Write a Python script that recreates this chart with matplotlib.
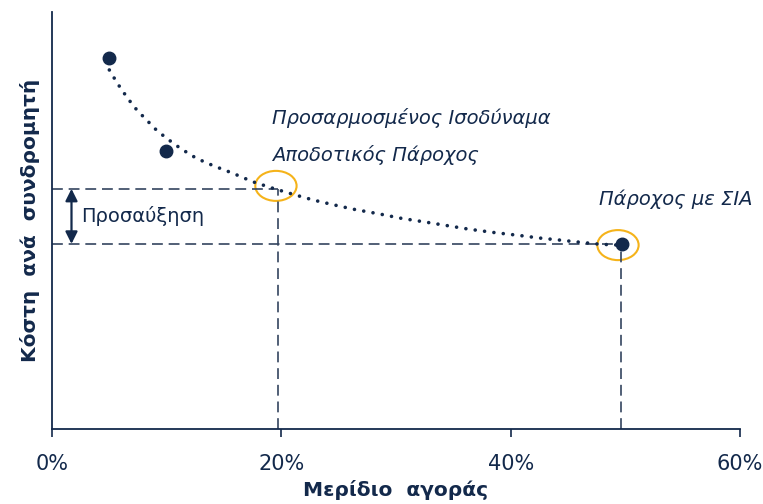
import matplotlib
matplotlib.use("Agg")
import matplotlib.pyplot as plt
from matplotlib.patches import Ellipse

# ---- data ----
curve_x = [5, 5.7, 6.6, 7.4, 8.25, 9.1, 10, 11.2, 12.6, 14.1, 15.8, 17.5, 19.3, 21, 22.8,
           24.5, 26.3, 28.5, 30.5, 32.4, 34.4, 36.4, 38.6, 40.8, 42.5, 44.3, 46, 47.8, 49.5]
curve_y = [86.1, 82.9, 79.3, 76.5, 74.1, 71.7, 69.7, 67.3, 64.9, 63.1, 61.3, 59.3, 57.7, 56.3, 54.9,
           53.8, 52.7, 51.6, 50.5, 49.7, 48.8, 47.9, 47.1, 46.4, 45.8, 45.3, 44.8, 44.3, 44.1]
point_x = [4.97, 9.94, 49.7]
point_y = [89.0, 66.7, 44.4]
eq_share = 19.7
eq_cost = 57.6
sia_share = 49.6
sia_cost = 44.4
xticks = [0, 20, 40, 60]
xtick_labels = ["0%", "20%", "40%", "60%"]

navy = "#13294b"
dash_col = "#34445f"
gold = "#f5b31a"

fig = plt.figure(figsize=(7.63, 5.04), dpi=100)
ax = fig.add_axes([52/763, 1-429/504, (740-52)/763, (429-12)/504])
ax.set_xlim(0, 60)
ax.set_ylim(0, 100)

# dashed guide lines
dash = (0, (6.5, 3.5))
ax.plot([0, eq_share], [eq_cost, eq_cost], color=dash_col, lw=1.2, linestyle=dash)
ax.plot([eq_share, eq_share], [0, eq_cost], color=dash_col, lw=1.2, linestyle=dash)
ax.plot([0, sia_share], [sia_cost, sia_cost], color=dash_col, lw=1.2, linestyle=dash)
ax.plot([sia_share, sia_share], [0, sia_cost], color=dash_col, lw=1.2, linestyle=dash)

# dotted curve
ax.plot(curve_x, curve_y, color=navy, lw=2.6, linestyle=(0, (0.01, 2.6)),
        dash_capstyle="round", solid_capstyle="round")
ax.plot(point_x, point_y, "o", color=navy, markersize=9)

# ellipses
for cx, cy in [(19.53, 58.3), (49.36, 44.1)]:
    ax.add_patch(Ellipse((cx, cy), 3.6, 7.2, fill=False, edgecolor=gold, lw=1.5))

# double arrow
ax.annotate("", xy=(1.7, eq_cost), xytext=(1.7, sia_cost),
            arrowprops=dict(arrowstyle="<|-|>", color=navy, lw=1.6, mutation_scale=18,
                            shrinkA=0, shrinkB=0))
ax.text(2.5, (eq_cost + sia_cost) / 2, "Προσαύξηση", fontsize=14, color=navy,
        va="center", ha="left")

ax.text(19.2, 74.5, "Προσαρμοσμένος Ισοδύναμα", fontsize=14, color=navy,
        style="italic", va="center", ha="left")
ax.text(19.2, 65.7, "Αποδοτικός Πάροχος", fontsize=14, color=navy,
        style="italic", va="center", ha="left")
ax.text(47.7, 55.0, "Πάροχος με ΣΙΑ", fontsize=14, color=navy,
        style="italic", va="center", ha="left")

for s in ["top", "right"]:
    ax.spines[s].set_visible(False)
for s in ["left", "bottom"]:
    ax.spines[s].set_color(navy)
    ax.spines[s].set_linewidth(1.3)

ax.set_xticks(xticks)
ax.set_xticklabels(xtick_labels)
ax.tick_params(axis="x", direction="out", length=6, width=1.2, color=navy,
               labelsize=15, labelcolor=navy, pad=12)
ax.set_yticks([])

ax.set_xlabel("Μερίδιο  αγοράς", fontsize=14.5, fontweight="bold", color=navy, labelpad=4)
ax.set_ylabel("Κόστη  ανά  συνδρομητή", fontsize=14.5, fontweight="bold", color=navy, labelpad=9)

fig.savefig("out.png", dpi=100)
